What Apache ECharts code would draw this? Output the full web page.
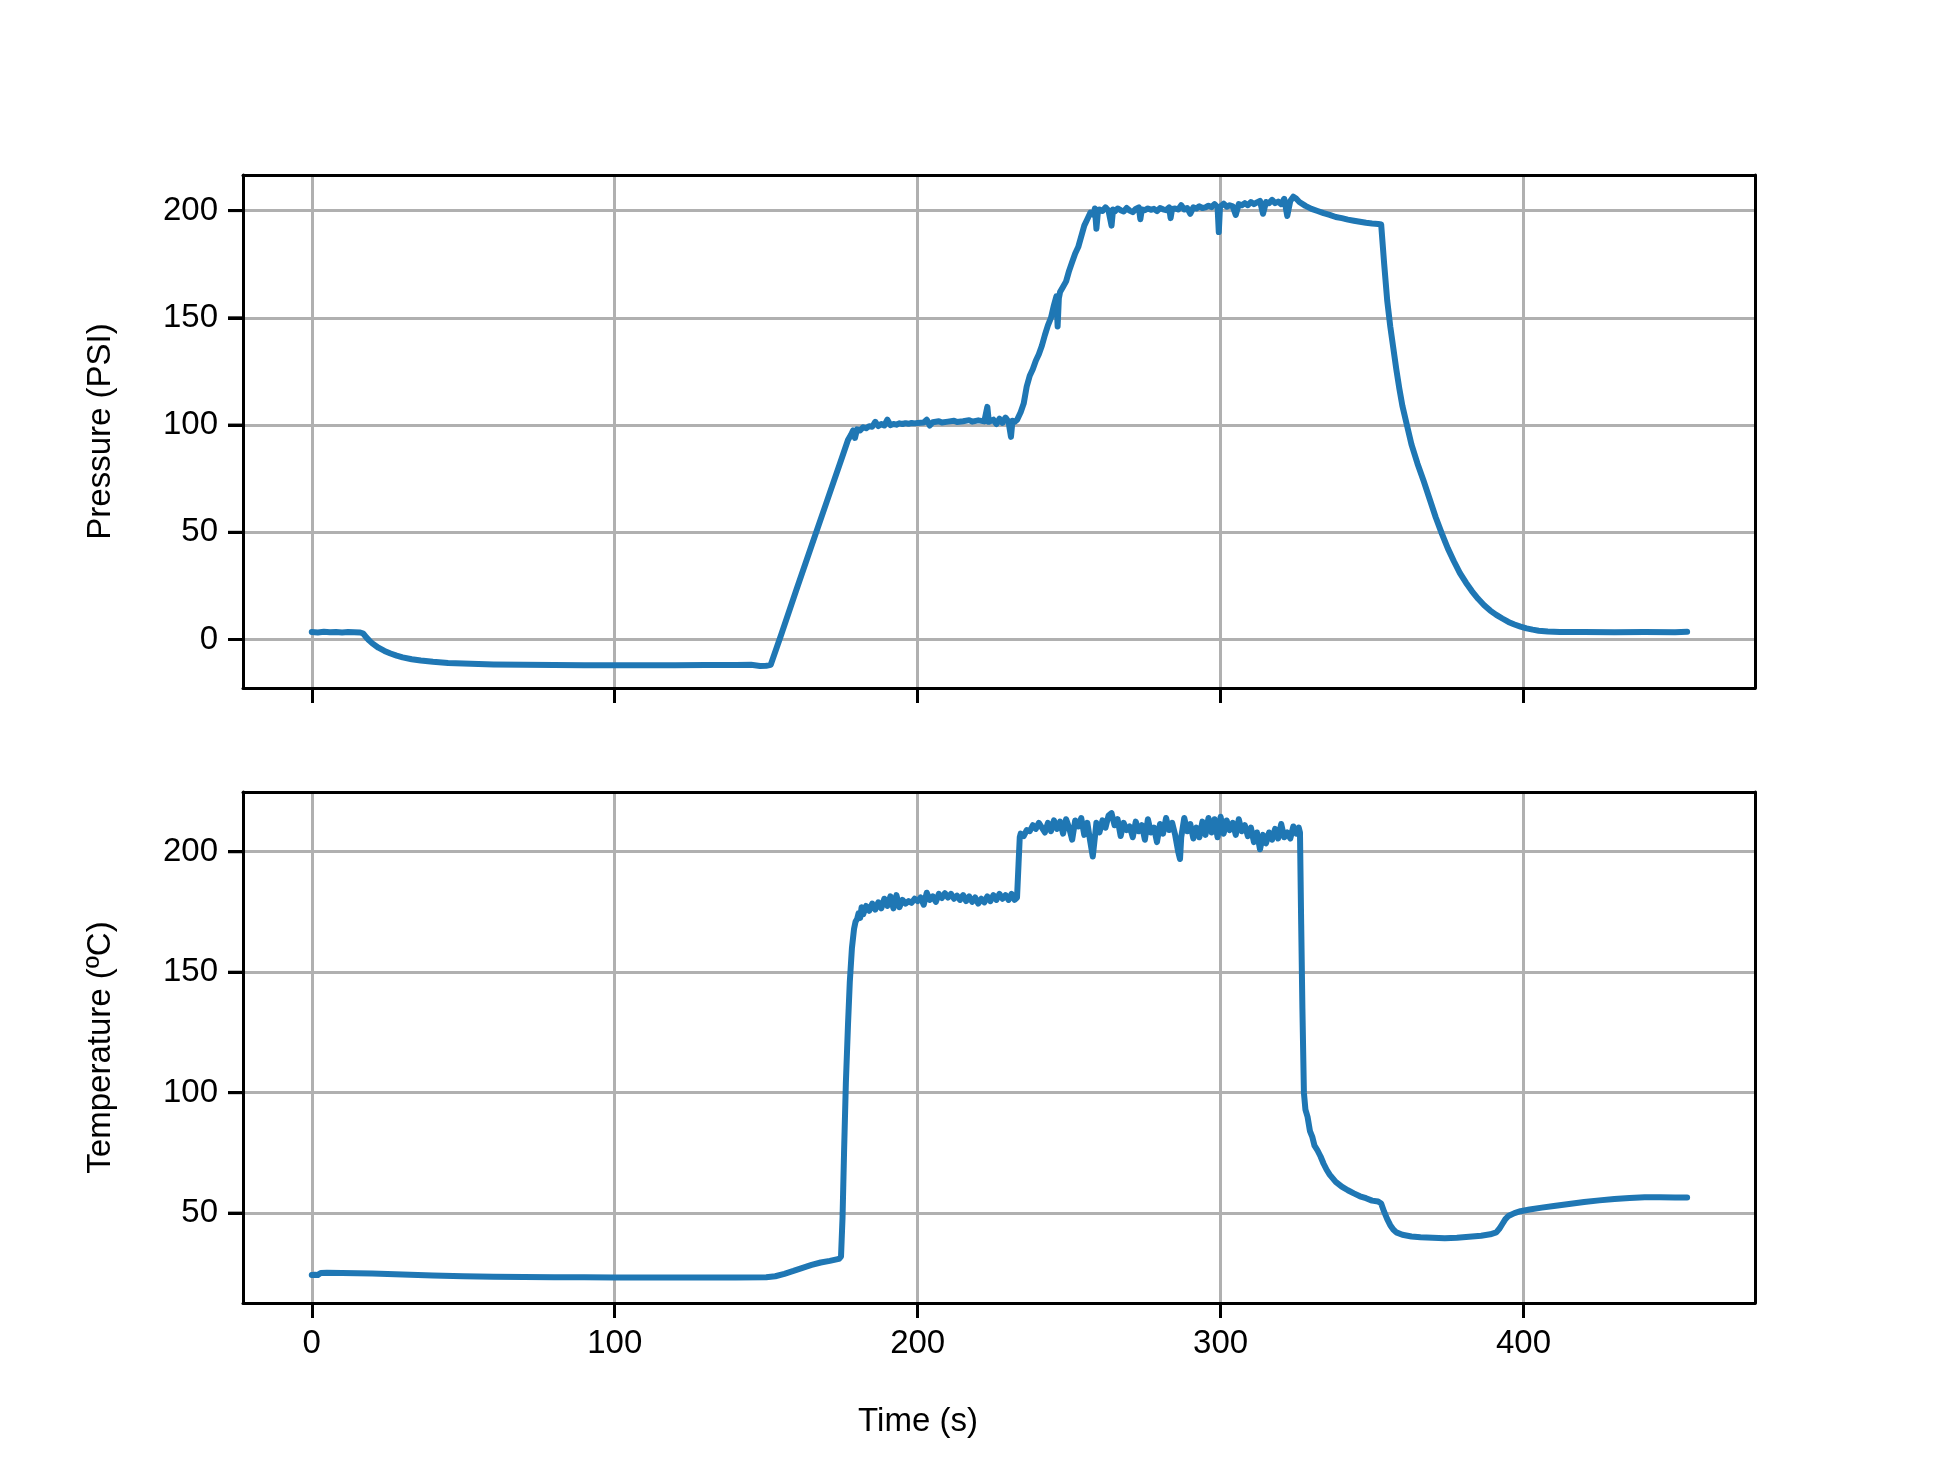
<!DOCTYPE html>
<html>
<head>
<meta charset="utf-8">
<script src="https://cdn.jsdelivr.net/npm/echarts@6/dist/echarts.min.js"></script>
<style>
  html, body { margin: 0; padding: 0; background: #fff; }
  #chart { width: 1958px; height: 1470px; }
</style>
</head>
<body>
<div id="chart"></div>
<script>
// ---- data: [time (s), value] ----
const pressurePoints = [
  [0,3.5],[2,3.3],[4,3.6],[6,3.4],[8,3.5],[10,3.3],[12,3.5],[14,3.4],[16,3.3],
  [17,2.8],[18,1.0],[19,-0.5],[20,-1.8],[22,-3.8],[24,-5.3],[26,-6.5],[28,-7.5],[30,-8.3],
  [33,-9.2],[36,-9.8],[40,-10.4],[45,-10.9],[50,-11.2],[60,-11.6],[70,-11.8],[80,-11.9],
  [90,-12.0],[100,-12.0],[110,-12.0],[120,-12.0],[130,-11.9],[140,-11.9],[145,-11.8],
  [148,-12.3],[150,-12.2],[151.5,-11.8],
  [155,2.5],[160,23.3],[165,43.8],[170,64.3],[175,84.8],[177,93],[178,95.5],[178.7,97.5],
  [179.3,94],[180,98],[181,97.5],[182,99],[183,98.5],[184,99.5],[185,99.2],[186,101.5],
  [187,99.5],[188,100.5],[189,99.8],[190,102.5],[191,100],[192,100.5],[193,100.2],[194,100.8],
  [195,100.5],[196,100.9],[197,100.6],[198,101],[199,100.8],[200,101],[202,101.2],[203,102.5],
  [204,99.8],[205,101.3],[207,101.8],[208,101.2],[210,101.6],[212,102],[213,101.4],[215,101.8],
  [217,102.3],[218,101.6],[220,102.2],[222,101.7],[222.5,102],[223,108.5],[223.5,101.5],
  [225,102.5],[226,100.5],[227,103],[228,101],[229,103.5],[230,101.5],[230.8,94.5],[231.3,102],
  [232,101.5],[232.8,102.4],
  [234,106],[235,110],[236,118],[237,123],[238,126],[239,130],[240,133],[241,137],[242,142],
  [243,146.5],[244,150],[245,156],[245.8,160],[246.2,146],[246.6,159],[247,162],[248,164.5],
  [249,167],[250,172],[251,176],[252,180],[253,183],[254,188],[255,193],[256,196],[256.5,197.5],
  [257,199],[258,198],[258.5,201],[259,191.5],[259.5,199.5],[260,200.5],[261,199.8],[262,201.5],
  [263,200],[264,193],[264.5,200.5],[265,199.5],[266,201],[267,200.2],[268,199.6],[269,201.2],
  [270,200],[271,199.3],[272,200.8],[273,201.5],[273.5,196],[274,200.5],[275,200.2],[276,201],
  [277,200.4],[278,200.8],[279,199.8],[280,201.2],[281,200.6],[282,200.2],[283,201.5],
  [283.5,196.5],[284,200.8],[285,201],[286,200.5],[287,202.5],[288,200.5],[289,201.2],
  [290,198.5],[291,201.5],[292,201],[293,202],[294,201.2],[295,201.5],[296,202.3],[297,201.6],
  [298,203],[299,201.5],[299.4,190],[299.8,201.8],[300,202.5],[301,203.2],[302,201.8],
  [303,202.5],[304,202],[305,198],[306,203],[307,202.5],[308,203.5],[309,202.5],[310,204],
  [311,203],[312,203.8],[313,204.5],[314,198.5],[315,204],[316,203.5],[317,205],[318,203.5],
  [319,204.2],[320,203],[321,205.5],[322,197.5],[323,204.5],[324,206.5],[324.6,207],[325,205.5],
  [326,204],[328,202.2],[330,200.8],[332,199.8],[334,198.8],[336,198],[338,197],[340,196.5],
  [342,195.8],[344,195.3],[346,194.8],[348,194.3],[350,194],[352,193.8],[353,193.5],
  [354,175],[355,158],[356,146],[357,136],[358,126],[359,117],[360,109],[361.5,100],[363,91],
  [365,82],[367,74],[369,65.5],[371,57],[373,49.5],[375,42.5],[377,36.5],[379,31],[381,26.5],
  [383,22.5],[385,19],[387,16],[389,13.5],[391,11.5],[393,9.8],[395,8.2],[397,7],[399,6],
  [401,5.2],[403,4.6],[405,4.1],[408,3.7],[412,3.5],[420,3.5],[430,3.4],[440,3.5],[450,3.4],
  [454,3.6]
];

const temperaturePoints = [
  [0,24.3],[1,24.4],[2,24.3],[3,25.2],[5,25.3],[10,25.2],[15,25.1],[20,24.9],[30,24.5],
  [40,24.1],[50,23.8],[60,23.6],[70,23.5],[80,23.4],[90,23.4],[100,23.3],[110,23.3],[120,23.3],
  [130,23.3],[140,23.3],[150,23.4],[153,23.8],[156,24.8],[159,26],[162,27.3],[165,28.5],
  [168,29.5],[171,30.2],[174,31],[174.7,32],[175.2,48],[175.7,75],[176.3,104],[177,128],
  [177.6,146],[178.3,160],[179,168],[179.5,171],[180,172],[180.5,174.5],[181,172.5],[181.5,177],
  [182,174],[183,177.5],[184,175.5],[185,178.5],[186,176],[187,179],[188,176.5],[189,180.5],
  [190,177.5],[191,181.5],[192,176.5],[193,182],[194,177],[195,180],[196,178.5],[197,179.5],
  [198,178.8],[199,180.5],[200,179.5],[201,181],[202,178],[203,183],[204,180],[205,181.5],
  [206,179.2],[207,182.5],[208,180.8],[209,182.8],[210,181],[211,182.5],[212,180.5],[213,181.8],
  [214,180],[215,182],[216,179.5],[217,181.5],[218,179.2],[219,181],[220,178.5],[221,180.5],
  [222,179],[223,181.5],[224,179.5],[225,182],[226,180],[227,182.5],[228,180.5],[229,182],
  [230,180],[231,182.5],[232,180],[232.8,181],[233.3,195],[233.7,206],[234,207.5],[235,206.5],
  [236,209],[237,208.5],[238,211],[239,209.5],[240,212],[241,210],[242,208],[243,212],
  [244,208.5],[245,213],[246,209.5],[247,212.5],[248,207.5],[249,213.5],[250,210],[251,205],
  [252,213],[253,210.5],[254,214],[255,207],[256,212],[257,204],[257.8,198],[258.5,206],
  [259,212],[260,208],[261,213],[262,210],[263,215],[264,216],[265,211],[266,213.5],[267,206.5],
  [268,212],[269,209],[270,210.5],[271,206],[272,212.5],[273,208.5],[274,211],[275,205],
  [276,213.5],[277,208],[278,210],[279,204],[280,211.5],[281,207.5],[282,214],[283,209],
  [284,212],[285,207],[286,200],[286.6,197],[287,206],[288,214],[289,208.5],[290,211.5],
  [291,205.5],[292,210],[293,206],[294,212.5],[295,207],[296,214],[297,208],[298,213.5],
  [299,206],[300,214.5],[301,207.5],[302,213],[303,209],[304,212],[305,207],[306,213.5],
  [307,208.5],[308,211],[309,206.5],[310,210],[311,204],[312,208],[313,201],[314,207],
  [315,203.5],[316,208],[317,205],[318,209.5],[319,205.5],[320,211.5],[321,206],[322,208],
  [323,205.5],[324,210.5],[325,207.5],[325.8,210],[326.2,208],[326.6,170],[327,135],
  [327.5,100],[328,93],[328.7,90],[329.5,84],[330.3,81.5],[331,78],[332,76],[333,73.5],
  [334,70.5],[335,68],[336,66],[338,63],[340,61],[342,59.5],[344,58.2],[346,57],[348,56.2],
  [350,55.2],[352,54.8],[353,54],[354,50.5],[355,47.5],[356,45],[357,43.2],[358,42],[360,41],
  [363,40.3],[366,40],[370,39.8],[374,39.6],[378,39.8],[382,40.2],[386,40.6],[389,41.2],
  [391,42],[392,43.5],[393,45.5],[394,47.5],[395,48.8],[397,50],[399,50.8],[402,51.5],
  [406,52.3],[410,53],[415,53.8],[420,54.6],[425,55.3],[430,55.9],[435,56.3],[440,56.6],
  [445,56.6],[450,56.5],[454,56.5]
];

const timeTicks = [0, 100, 200, 300, 400];
const pressureTicks = [0, 50, 100, 150, 200];
const temperatureTicks = [50, 100, 150, 200];

const timeName = 'Time (s)';
const pressureName = 'Pressure (PSI)';
const temperatureName = 'Temperature (ºC)';

// ---- styling ----
const FONT = '"Liberation Sans", Arial, sans-serif';
const FS = 33;
const LINE_COLOR = '#1f77b4';
const GRID_COLOR = '#b0b0b0';
const TICK_LEN = 15;
const X_RANGE = [-22.7, 476.4];
const P_RANGE = [-22.6, 216.6];
const T_RANGE = [12.7, 224.8];

function spine() { return { color: '#000', width: 3 }; }

function xAxisCfg(gridIndex, showLabels) {
  return {
    type: 'value', gridIndex: gridIndex, position: 'bottom',
    min: X_RANGE[0], max: X_RANGE[1],
    name: showLabels ? timeName : '',
    nameLocation: 'middle', nameGap: 102,
    nameTextStyle: { fontFamily: FONT, fontSize: FS, color: '#000',
                     padding: [0, 162, 0, 0] },
    axisLine: { show: true, onZero: false, lineStyle: spine() },
    axisTick: { show: true, length: TICK_LEN, customValues: timeTicks, lineStyle: spine() },
    axisLabel: { show: showLabels, customValues: timeTicks, margin: 24,
                 fontFamily: FONT, fontSize: FS, color: '#000' },
    splitLine: { show: true, lineStyle: { color: GRID_COLOR, width: 3 } }
  };
}
function frameX(gridIndex) {
  return {
    type: 'value', gridIndex: gridIndex, position: 'top',
    min: X_RANGE[0], max: X_RANGE[1],
    axisLine: { show: true, onZero: false, lineStyle: spine() },
    axisTick: { show: false }, axisLabel: { show: false }, splitLine: { show: false }
  };
}
function yAxisCfg(gridIndex, range, ticks, name) {
  return {
    type: 'value', gridIndex: gridIndex, position: 'left',
    min: range[0], max: range[1],
    name: name, nameLocation: 'middle', nameGap: 126, nameRotate: 90,
    nameTextStyle: { fontFamily: FONT, fontSize: FS, color: '#000' },
    axisLine: { show: true, onZero: false, lineStyle: spine() },
    axisTick: { show: true, length: TICK_LEN, customValues: ticks, lineStyle: spine() },
    axisLabel: { show: true, customValues: ticks, margin: 25,
                 fontFamily: FONT, fontSize: FS, color: '#000' },
    splitLine: { show: true, lineStyle: { color: GRID_COLOR, width: 3 } }
  };
}
function frameY(gridIndex, range) {
  return {
    type: 'value', gridIndex: gridIndex, position: 'right',
    min: range[0], max: range[1],
    axisLine: { show: true, onZero: false, lineStyle: spine() },
    axisTick: { show: false }, axisLabel: { show: false }, splitLine: { show: false }
  };
}

const chart = echarts.init(document.getElementById('chart'), null, { renderer: 'canvas' });
chart.setOption({
  animation: false,
  backgroundColor: '#ffffff',
  grid: [
    { left: 243, top: 175, width: 1512, height: 513 },
    { left: 243, top: 792, width: 1512, height: 511 }
  ],
  xAxis: [ xAxisCfg(0, false), xAxisCfg(1, true), frameX(0), frameX(1) ],
  yAxis: [
    yAxisCfg(0, P_RANGE, pressureTicks, pressureName),
    yAxisCfg(1, T_RANGE, temperatureTicks, temperatureName),
    frameY(0, P_RANGE),
    frameY(1, T_RANGE)
  ],
  series: [
    { type: 'line', xAxisIndex: 0, yAxisIndex: 0, data: pressurePoints,
      showSymbol: false, symbol: 'none', smooth: false, sampling: null,
      lineStyle: { color: LINE_COLOR, width: 6, join: 'round', cap: 'round' }, z: 3 },
    { type: 'line', xAxisIndex: 1, yAxisIndex: 1, data: temperaturePoints,
      showSymbol: false, symbol: 'none', smooth: false, sampling: null,
      lineStyle: { color: LINE_COLOR, width: 6, join: 'round', cap: 'round' }, z: 3 }
  ]
});

// outward y tick marks, positioned with the library's own scales (convertToPixel)
function tickGraphics(gridIndex, ticks) {
  return ticks.map(function (v) {
    const p = chart.convertToPixel({ xAxisIndex: gridIndex, yAxisIndex: gridIndex }, [X_RANGE[0], v]);
    return {
      type: 'line', z: 100, silent: true,
      shape: { x1: p[0] - TICK_LEN, y1: p[1], x2: p[0], y2: p[1] },
      style: { stroke: '#000', lineWidth: 3 }
    };
  });
}
chart.setOption({
  graphic: tickGraphics(0, pressureTicks).concat(tickGraphics(1, temperatureTicks))
});
</script>
</body>
</html>
